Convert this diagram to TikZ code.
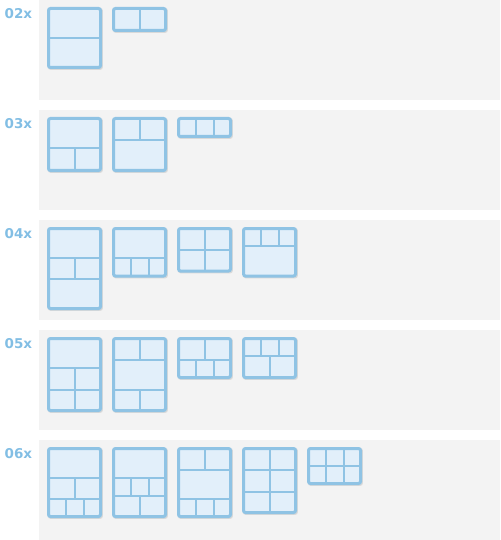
\documentclass[tikz,border=0pt]{standalone}
\usepackage{fontspec}
\setmainfont{DejaVu Sans}
\definecolor{panelc}{HTML}{F3F3F3}
\definecolor{boxfill}{HTML}{E2EFFA}
\definecolor{boxline}{HTML}{8FC3E4}
\definecolor{labelc}{HTML}{82BEE4}
\definecolor{shadowc}{HTML}{D9D9D9}
\newcommand\screenbox[4]{%
  \fill[shadowc, rounded corners=2.5pt] ({#1+1},{#2+1}) rectangle ({#3+0.8},{#4+0.8});
  \draw[screen] ({#1+1.5},{#2+1.5}) rectangle ({#3-1.5},{#4-1.5});}
\newcommand\hdiv[3]{\draw[divider] ({#1},{#3}) -- ({#2},{#3});}
\newcommand\vdiv[3]{\draw[divider] ({#1},{#2}) -- ({#1},{#3});}
\begin{document}
\begin{tikzpicture}[x=1pt,y=-1pt,
  panel/.style={fill=panelc},
  screen/.style={draw=boxline, fill=boxfill, line width=3pt, rounded corners=2pt},
  divider/.style={draw=boxline, line width=2pt},
  rowlabel/.style={text=labelc, font=\bfseries\fontsize{13.5}{13.5}\selectfont, anchor=west, inner sep=0pt}]
\useasboundingbox (0,0) rectangle (500,540);
% panels
\foreach \t in {0,110,220,330,440} {\fill[panel] (39,\t) rectangle (500,{\t+100});}
% labels
\node[rowlabel] (l2) at (4.5,13.5) {02x};
\node[rowlabel] (l3) at (4.5,123.5) {03x};
\node[rowlabel] (l4) at (4.5,233.5) {04x};
\node[rowlabel] (l5) at (4.5,343.5) {05x};
\node[rowlabel] (l6) at (4.5,453.5) {06x};
% ---- 02x
\screenbox{47}{7}{102}{69} \hdiv{48}{101}{38}
\screenbox{112}{7}{167}{32} \vdiv{139.5}{8}{31}
% ---- 03x
\screenbox{47}{117}{102}{172} \hdiv{48}{101}{148} \vdiv{74.5}{148}{171}
\screenbox{112}{117}{167}{172} \hdiv{113}{166}{140} \vdiv{139.5}{118}{140}
\screenbox{177}{117}{232}{138} \vdiv{195.5}{118}{137} \vdiv{213.5}{118}{137}
% ---- 04x
\screenbox{47}{227}{102}{310} \hdiv{48}{101}{258} \hdiv{48}{101}{279} \vdiv{74.5}{258}{279}
\screenbox{112}{227}{167}{277.5} \hdiv{113}{166}{258} \vdiv{130.5}{258}{276.5} \vdiv{148.5}{258}{276.5}
\screenbox{177}{227}{232}{272.5} \hdiv{178}{231}{250} \vdiv{204.5}{228}{271.5}
\screenbox{242}{227}{297}{277.5} \hdiv{243}{296}{245.5} \vdiv{260.5}{228}{245.5} \vdiv{278.5}{228}{245.5}
% ---- 05x
\screenbox{47}{337}{102}{412} \hdiv{48}{101}{368} \hdiv{48}{101}{390} \vdiv{74.5}{368}{411}
\screenbox{112}{337}{167}{412} \hdiv{113}{166}{360} \hdiv{113}{166}{389.5} \vdiv{139.5}{338}{360} \vdiv{139.5}{389.5}{411}
\screenbox{177}{337}{232}{379} \hdiv{178}{231}{360} \vdiv{204.5}{338}{360} \vdiv{195.5}{360}{378} \vdiv{213.5}{360}{378}
\screenbox{242}{337}{297}{379} \hdiv{243}{296}{355.5} \vdiv{260.5}{338}{355.5} \vdiv{278.5}{338}{355.5} \vdiv{269.5}{355.5}{378}
% ---- 06x
\screenbox{47}{447}{102}{518} \hdiv{48}{101}{478} \hdiv{48}{101}{499} \vdiv{74.5}{478}{499} \vdiv{65.5}{499}{517} \vdiv{83.5}{499}{517}
\screenbox{112}{447}{167}{518} \hdiv{113}{166}{478} \hdiv{113}{166}{495.5} \vdiv{130.5}{478}{495.5} \vdiv{148.5}{478}{495.5} \vdiv{139.5}{495.5}{517}
\screenbox{177}{447}{232}{518} \hdiv{178}{231}{470} \hdiv{178}{231}{499} \vdiv{204.5}{448}{470} \vdiv{195.5}{499}{517} \vdiv{213.5}{499}{517}
\screenbox{242}{447}{297}{514} \hdiv{243}{296}{470} \hdiv{243}{296}{491.5} \vdiv{269.5}{448}{513}
\screenbox{307}{447}{362}{485} \hdiv{308}{361}{466} \vdiv{326}{448}{484} \vdiv{343.5}{448}{484}
\end{tikzpicture}
\end{document}
